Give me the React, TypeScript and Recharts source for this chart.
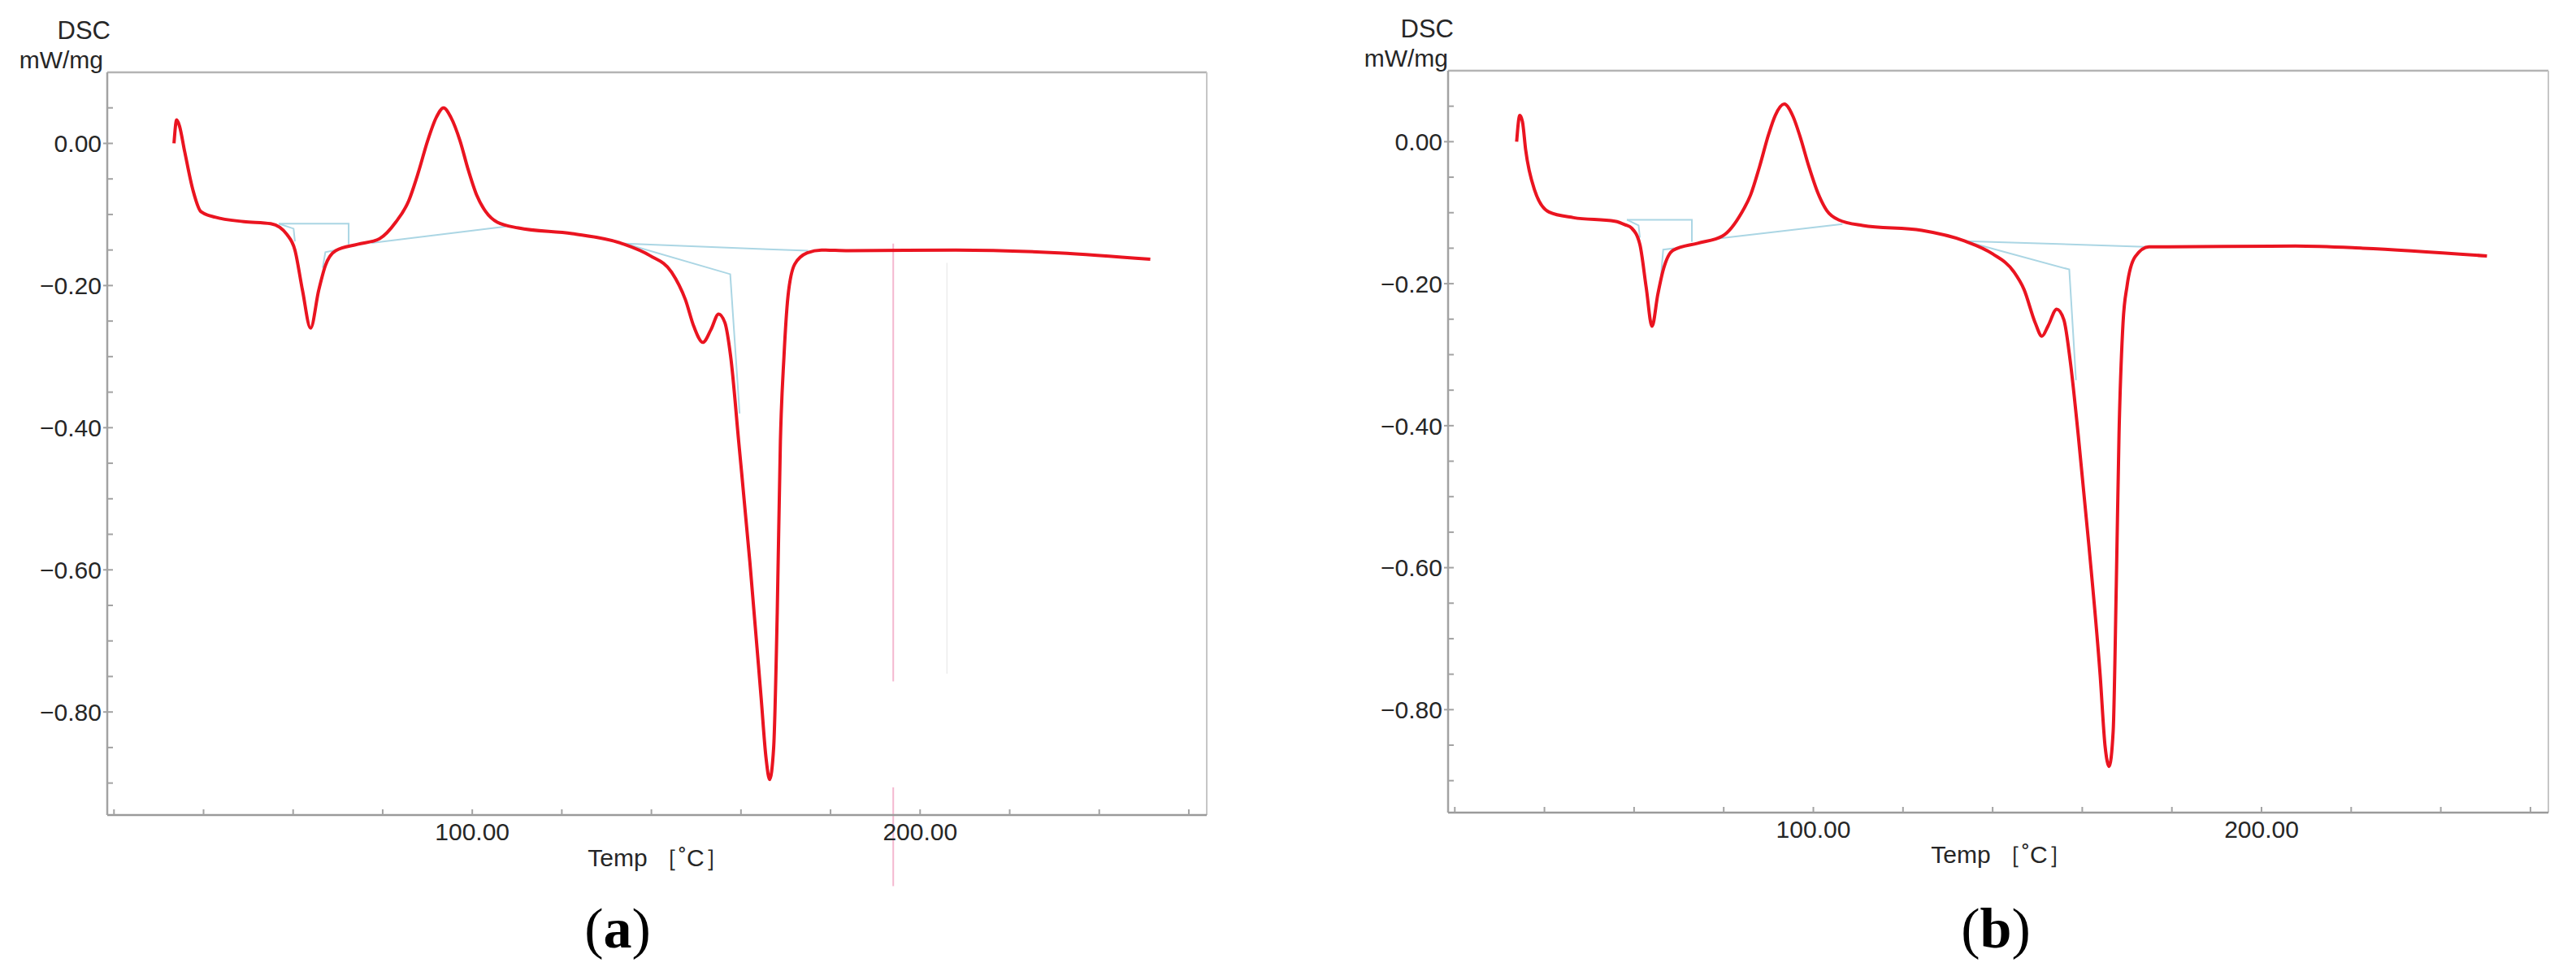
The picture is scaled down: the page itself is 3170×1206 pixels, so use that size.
import { LineChart, Line, XAxis, YAxis, ReferenceLine } from 'recharts'

// ---- DSC trace, panel (a) ----
const tempA = [
  33.4, 34.0, 34.6, 35.8, 37.6, 39.4, 42.7, 49.0, 55.0, 57.0, 58.6, 60.4, 62.1, 63.9, 65.7, 67.2,
  69.5, 74.4, 79.3, 82.9, 85.8, 88.0, 90.0, 92.0, 93.6, 95.2, 97.3, 99.0, 101.0, 103.0, 105.6,
  110.3, 122.3, 133.5, 139.7, 144.5, 147.6, 149.5, 151.5, 153.3, 155.0, 156.4, 157.7, 159.5,
  162.0, 164.5, 165.6, 166.4, 167.3, 168.1, 168.8, 169.6, 170.5, 172.0, 174.8, 178.0, 184.0,
  208.0, 231.0, 251.4,
]
const dscA = [
  0.0, 0.033, 0.025, -0.012, -0.065, -0.096, -0.104, -0.11, -0.113, -0.118, -0.128, -0.15, -0.207,
  -0.26, -0.207, -0.172, -0.151, -0.142, -0.134, -0.111, -0.081, -0.04, 0.003, 0.037, 0.05, 0.037,
  0.003, -0.035, -0.073, -0.096, -0.111, -0.119, -0.127, -0.141, -0.158, -0.181, -0.22, -0.258,
  -0.28, -0.262, -0.24, -0.252, -0.3, -0.42, -0.59, -0.78, -0.865, -0.895, -0.85, -0.66, -0.42,
  -0.3, -0.215, -0.17, -0.154, -0.15, -0.151, -0.15, -0.154, -0.163,
]

// ---- DSC trace, panel (b) ----
const tempB = [
  33.8, 34.5, 35.1, 35.8, 37.8, 41.0, 46.5, 55.7, 58.0, 59.5, 61.3, 62.7, 64.0, 65.3, 66.4, 68.7,
  74.2, 79.7, 84.0, 86.0, 88.0, 90.0, 91.5, 93.5, 95.5, 97.0, 99.0, 101.0, 103.0, 105.6, 111.0,
  124.2, 133.8, 140.0, 144.7, 147.0, 149.5, 151.0, 152.4, 154.3, 155.9, 157.3, 159.1, 161.5,
  164.0, 165.1, 166.0, 166.9, 167.6, 168.2, 169.1, 170.0, 171.8, 174.9, 178.0, 207.6, 222.6,
  250.3,
]
const dscB = [
  0.0, 0.037, 0.028, -0.011, -0.068, -0.099, -0.107, -0.112, -0.117, -0.122, -0.145, -0.205, -0.26,
  -0.215, -0.183, -0.153, -0.143, -0.133, -0.1, -0.075, -0.035, 0.01, 0.037, 0.053, 0.035, 0.008,
  -0.035, -0.072, -0.097, -0.11, -0.118, -0.125, -0.14, -0.158, -0.183, -0.208, -0.255, -0.274,
  -0.259, -0.236, -0.251, -0.308, -0.413, -0.57, -0.752, -0.852, -0.88, -0.83, -0.622, -0.413,
  -0.255, -0.203, -0.162, -0.148, -0.148, -0.147, -0.15, -0.161,
]

// ---- integration baselines (light blue), [temps, values] ----
const baseA: [number[], number[]][] = [
  [[56.8, 72.4, 72.4], [-0.113, -0.113, -0.142]],
  [[56.8, 60.1, 60.4], [-0.113, -0.12, -0.138]],
  [[66.6, 67.2, 69.5], [-0.175, -0.153, -0.15]],
  [[77.5, 107.5], [-0.14, -0.117]],
  [[134.1, 166.0, 175.0], [-0.141, -0.149, -0.151]],
  [[134.1, 157.6, 159.7], [-0.141, -0.184, -0.38]],
]
const baseB: [number[], number[]][] = [
  [[58.4, 72.9, 72.9], [-0.11, -0.11, -0.141]],
  [[58.4, 61.0, 61.3], [-0.11, -0.118, -0.135]],
  [[66.0, 66.5, 69.0], [-0.19, -0.152, -0.15]],
  [[78.0, 106.5], [-0.137, -0.116]],
  [[133.8, 174.0], [-0.14, -0.148]],
  [[133.8, 157.1, 158.6], [-0.14, -0.18, -0.336]],
]

const X_DOMAIN: [number, number] = [18.5, 264]
const Y_DOMAIN: [number, number] = [-0.945, 0.1]
const X_TICKS = [20, 40, 60, 80, 100, 120, 140, 160, 180, 200, 220, 240, 260]
const X_LABELED = [100, 200]
const Y_TICKS = [
  0.05, 0, -0.05, -0.1, -0.15, -0.2, -0.25, -0.3, -0.35, -0.4, -0.45, -0.5, -0.55, -0.6, -0.65,
  -0.7, -0.75, -0.8, -0.85, -0.9,
]

const FONT = '"Liberation Sans", Arial, Helvetica, sans-serif'
const TEXT = '#262626'
const AXIS = '#a3a3a3'
const RED = '#ea1420'
const BLUE = '#abd6e4'

const zip = (t: number[], v: number[]) => t.map((x, i) => ({ t: x, v: v[i] }))

function fmtY(v: number) {
  if (Math.abs(v) < 1e-9) return '0.00'
  return (v < 0 ? '\u2212' : '') + Math.abs(v).toFixed(2)
}

function XTick(props: any) {
  const { x, y, payload } = props
  const show = X_LABELED.includes(payload.value)
  return (
    <g>
      <line x1={x} x2={x} y1={y} y2={y - 7} stroke={AXIS} strokeWidth={2} />
      {show && (
        <text x={x} y={y + 31} textAnchor="middle" fontFamily={FONT} fontSize={30} fill={TEXT}>
          {payload.value.toFixed(2)}
        </text>
      )}
    </g>
  )
}

function YTick(props: any) {
  const { x, y, payload } = props
  const q = payload.value / 0.2
  const major = Math.abs(q - Math.round(q)) < 1e-6
  return (
    <g>
      <line x1={major ? x - 5 : x} x2={x + 7} y1={y} y2={y} stroke={AXIS} strokeWidth={2} />
      {major && (
        <text x={x - 7} y={y} dy="0.36em" textAnchor="end" fontFamily={FONT} fontSize={30} fill={TEXT}>
          {fmtY(payload.value)}
        </text>
      )}
    </g>
  )
}

interface PanelProps {
  left: number
  margin: { top: number; right: number; bottom: number; left: number }
  curve: { t: number; v: number }[]
  baselines: [number[], number[]][]
  marker?: boolean
}

function Panel({ left, margin, curve, baselines, marker }: PanelProps) {
  return (
    <div style={{ position: 'absolute', left, top: 0 }}>
      <LineChart width={1585} height={1206} margin={margin}>
        <XAxis
          dataKey="t"
          type="number"
          domain={X_DOMAIN}
          ticks={X_TICKS}
          interval={0}
          allowDataOverflow
          height={2}
          tickSize={0}
          tickMargin={0}
          tickLine={false}
          tick={(p: any) => <XTick {...p} />}
          axisLine={{ stroke: '#9a9a9a', strokeWidth: 2.5 }}
        />
        <YAxis
          dataKey="v"
          type="number"
          domain={Y_DOMAIN}
          ticks={Y_TICKS}
          interval={0}
          allowDataOverflow
          width={2}
          tickSize={0}
          tickMargin={0}
          tickLine={false}
          tick={(p: any) => <YTick {...p} />}
          axisLine={{ stroke: AXIS, strokeWidth: 2.5 }}
        />
        {/* frame */}
        <ReferenceLine y={0.1} stroke="#b4b4b4" strokeWidth={2.5} ifOverflow="visible" />
        <ReferenceLine x={264} stroke="#c6c6c6" strokeWidth={2} ifOverflow="visible" />
        {marker && (
          <ReferenceLine
            segment={[{ x: 194, y: -0.141 }, { x: 194, y: -0.757 }]}
            stroke="#f4b8d0"
            strokeWidth={2}
            ifOverflow="visible"
          />
        )}
        {marker && (
          <ReferenceLine
            segment={[{ x: 194, y: -0.906 }, { x: 194, y: -1.045 }]}
            stroke="#f4b8d0"
            strokeWidth={2}
            ifOverflow="visible"
          />
        )}
        {marker && (
          <ReferenceLine
            segment={[{ x: 206, y: -0.168 }, { x: 206, y: -0.746 }]}
            stroke="#ececec"
            strokeWidth={1.5}
            ifOverflow="visible"
          />
        )}
        {baselines.map(([t, v], i) => (
          <Line
            key={i}
            data={zip(t, v)}
            dataKey="v"
            type="linear"
            stroke={BLUE}
            strokeWidth={2}
            dot={false}
            activeDot={false}
            isAnimationActive={false}
          />
        ))}
        <Line
          data={curve}
          dataKey="v"
          type="monotone"
          stroke={RED}
          strokeWidth={4}
          dot={false}
          activeDot={false}
          isAnimationActive={false}
        />
      </LineChart>
    </div>
  )
}

export default function App() {
  return (
    <div style={{ position: 'absolute', left: 0, top: 0, width: 3170, height: 1206, background: '#fff' }}>
      <Panel
        left={0}
        margin={{ top: 89, right: 100, bottom: 201, left: 130 }}
        curve={zip(tempA, dscA)}
        baselines={baseA}
        marker
      />
      <Panel
        left={1585}
        margin={{ top: 87, right: 34, bottom: 204, left: 195 }}
        curve={zip(tempB, dscB)}
        baselines={baseB}
      />
      <svg
        width={3170}
        height={1206}
        style={{ position: 'absolute', left: 0, top: 0, pointerEvents: 'none' }}
        fontFamily={FONT}
        fill={TEXT}
      >
        <text x={136} y={48} fontSize={31} textAnchor="end">DSC</text>
        <text x={127} y={84} fontSize={30} textAnchor="end">mW/mg</text>
        <text x={1789} y={46} fontSize={31} textAnchor="end">DSC</text>
        <text x={1782} y={82} fontSize={30} textAnchor="end">mW/mg</text>
        <text x={810} y={1066} fontSize={30} textAnchor="middle">Temp ［˚C］</text>
        <text x={2463} y={1062} fontSize={30} textAnchor="middle">Temp ［˚C］</text>
        <text x={760} y={1166} fontSize={70} textAnchor="middle" fontFamily='"Liberation Serif", "Times New Roman", serif' fill="#000">
          (<tspan fontWeight="bold">a</tspan>)
        </text>
        <text x={2456} y={1166} fontSize={70} textAnchor="middle" fontFamily='"Liberation Serif", "Times New Roman", serif' fill="#000">
          (<tspan fontWeight="bold">b</tspan>)
        </text>
      </svg>
    </div>
  )
}
